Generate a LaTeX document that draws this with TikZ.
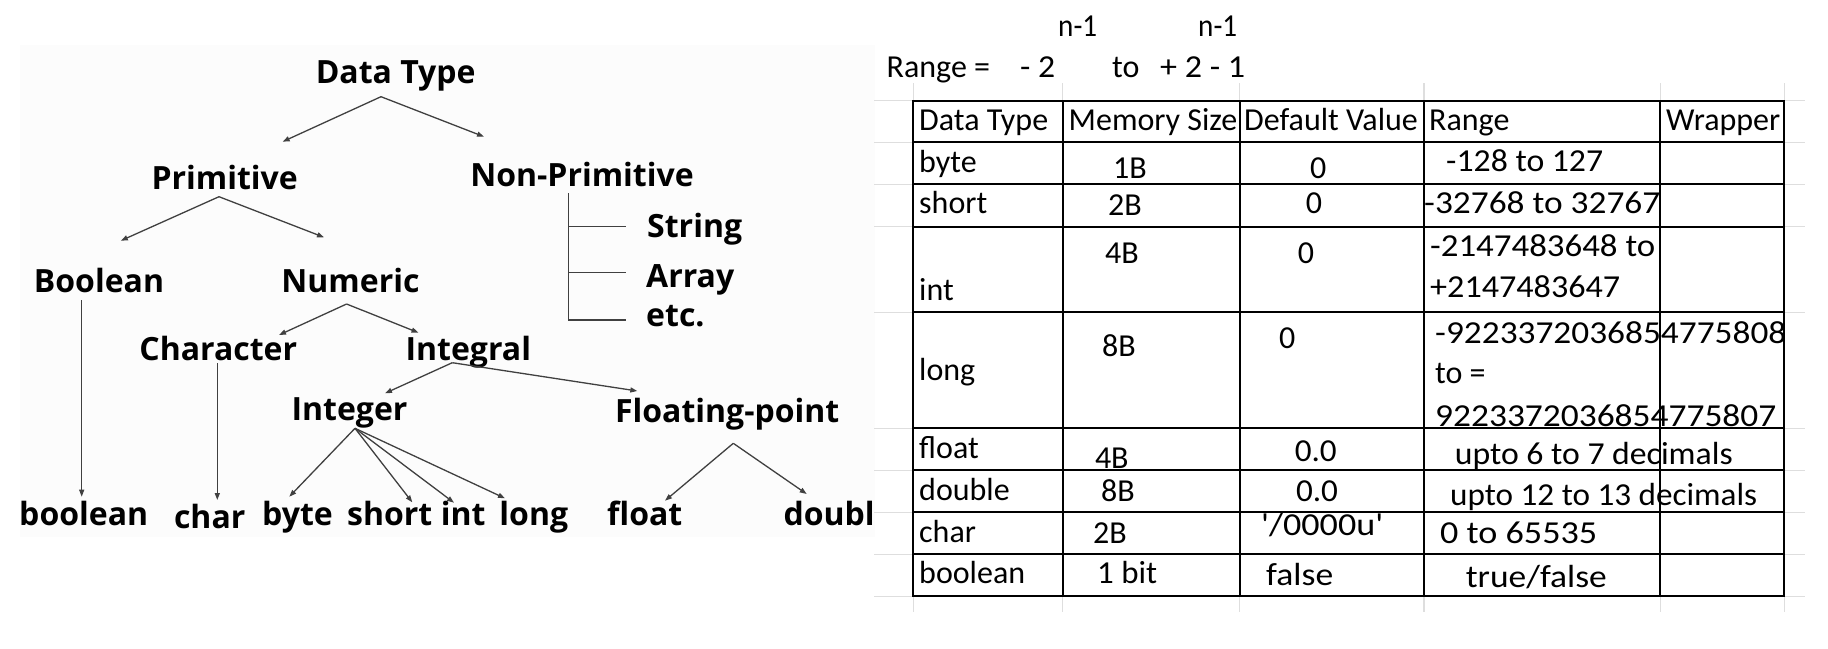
\documentclass[tikz,border=0pt]{standalone}
\usepackage{graphicx}
\usepackage{fontspec}
\setmainfont{Carlito}
\newfontfamily\treefont{Open Sans}
\newfontfamily\tabfont{Carlito}
\usetikzlibrary{arrows.meta}
\newcommand\fitw[2]{\resizebox{#1pt}{\height}{#2}}
\tikzset{
  tree/.style={font=\treefont\bfseries\fontsize{32}{36}\selectfont, inner sep=0pt, anchor=base, text=black},
  arr/.style={draw=black!75, line width=1.3pt, -{Triangle[length=7pt,width=5pt]}},
  ln/.style={draw=black!75, line width=1.3pt},
  cell/.style={font=\tabfont\fontsize{32}{36}\selectfont, inner sep=0pt, anchor=base west},
  tab/.style={line width=2pt, black},
  sheetgrid/.style={line width=1.3pt, black!13},
}
\begin{document}
\begin{tikzpicture}[x=1pt,y=-1pt]
\useasboundingbox (0,0) rectangle (1828,648);
% ---------------- left: tree ----------------
\begin{scope}
\clip (0,0) rectangle (875,648);
\fill[black!1.2] (20,45) rectangle (875,537);
\node[tree] (dt) at (395.7,83.5) {Data Type};
\node[tree] (prim) at (224.7,189) {Primitive};
\node[tree] (nprim) at (582,186.5) {Non-Primitive};
\node[tree] (boolC) at (99,292) {Boolean};
\node[tree] (num) at (350.5,292) {Numeric};
\node[tree,anchor=base west] (strN) at (647,237) {String};
\node[tree,anchor=base west] (arrayN) at (646,287) {Array};
\node[tree,anchor=base west] (etcN) at (646,326.5) {etc.};
\node[tree] (chr) at (218.3,360.7) {Character};
\node[tree] (igl) at (468.3,360.7) {Integral};
\node[tree] (igr) at (349.5,420.7) {Integer};
\node[tree] (flp) at (727.2,422.7) {Floating-point};
\node[tree] (lboolean) at (83.7,525) {boolean};
\node[tree] (lchar) at (209.7,528) {char};
\node[tree] (lbyte) at (297.5,525) {byte};
\node[tree] (lshort) at (389.7,525) {short};
\node[tree] (lint) at (463.3,525) {int};
\node[tree] (llong) at (533.8,525) {long};
\node[tree] (lfloat) at (644.7,525) {float};
\node[tree,anchor=base west] (ldoubl) at (783.3,525) {doubl};
% connector ends
\coordinate (dtA) at (381,96.7);
\coordinate (primT) at (282.6,141.7);
\coordinate (nprimT) at (484,136.7);
\coordinate (primA) at (219,196.7);
\coordinate (boolT) at (120.8,240.7);
\coordinate (numT) at (324,237.3);
\coordinate (nprimA) at (568.5,193);
\coordinate (strT) at (626,226.7);
\coordinate (arrayT) at (626,272.3);
\coordinate (etcT) at (626,320);
\coordinate (boolA) at (81.7,300);
\coordinate (lboolT) at (81.7,496.7);
\coordinate (numA) at (346.6,304);
\coordinate (chrT) at (279,335);
\coordinate (iglT) at (418.5,332.7);
\coordinate (chrA) at (217.3,363.3);
\coordinate (lcharT) at (217.3,500);
\coordinate (iglA) at (452.3,362.7);
\coordinate (igrT) at (385,393.3);
\coordinate (flpT) at (637.3,391);
\coordinate (igrA) at (355,428.3);
\coordinate (lbyteT) at (289.3,496.7);
\coordinate (lshortT) at (412.3,502.3);
\coordinate (lintT) at (454,502.7);
\coordinate (llongT) at (505,498.3);
\coordinate (flpA) at (733.3,443.3);
\coordinate (lfloatT) at (665,500.7);
\coordinate (ldoublT) at (806.7,494);
\draw[arr] (dtA) -- (primT);
\draw[arr] (dtA) -- (nprimT);
\draw[arr] (primA) -- (boolT);
\draw[arr] (primA) -- (numT);
\draw[ln] (nprimA) |- (etcT);
\draw[ln] (nprimA |- strT) -- (strT);
\draw[ln] (nprimA |- arrayT) -- (arrayT);
\draw[arr] (boolA) -- (lboolT);
\draw[arr] (numA) -- (chrT);
\draw[arr] (numA) -- (iglT);
\draw[arr] (chrA) -- (lcharT);
\draw[arr] (iglA) -- (igrT);
\draw[arr] (iglA) -- (flpT);
\draw[arr] (igrA) -- (lbyteT);
\draw[arr] (igrA) -- (lshortT);
\draw[arr] (igrA) -- (lintT);
\draw[arr] (igrA) -- (llongT);
\draw[arr] (flpA) -- (lfloatT);
\draw[arr] (flpA) -- (ldoublT);
\end{scope}
% ---------------- right: formula ----------------
\node[cell] (sup1) at (1058,36) {\fitw{39}{n-1}};
\node[cell] (sup2) at (1198,36) {\fitw{39}{n-1}};
\node[cell] (rng) at (886.5,77) {Range =};
\node[cell] (m2) at (1020,77) {\fitw{35}{- 2}};
\node[cell] (to) at (1112,77) {to};
\node[cell] (p2) at (1160,77) {\fitw{85}{+ 2 - 1}};
% ---------------- right: table ----------------
\foreach \y in {100.7,142.3,184.3,226.7,312.3,428.3,470.3,512.3,554.3,596.3}
  \draw[sheetgrid] (874,\y) -- (1805,\y);
\foreach \x in {913.4,1062.5,1239.6,1424,1660.4,1784.4}
  \draw[sheetgrid] (\x,83) -- (\x,612);
\draw[tab] (913.4,100.7) rectangle (1784.4,596.3);
\foreach \x in {1062.5,1239.6,1424,1660.4}
  \draw[tab] (\x,100.7) -- (\x,596.3);
\foreach \y in {142.3,184.3,226.7,312.3,428.3,470.3,512.3,554.3}
  \draw[tab] (913.4,\y) -- (1784.4,\y);
% header
\node[cell] (h1) at (919,130) {Data Type};
\node[cell] (h2) at (1068.5,130) {Memory Size};
\node[cell] (h3) at (1244,130) {Default Value};
\node[cell] (h4) at (1429,130) {Range};
\node[cell] (h5) at (1666,130) {Wrapper};
% byte
\node[cell] (r1a) at (919,172) {byte};
\node[cell] (r1b) at (1113,178) {1B};
\node[cell] (r1c) at (1310,178) {0};
\node[cell] (r1d) at (1446,171) {\fitw{157}{-128 to 127}};
% short
\node[cell] (r2a) at (919,213) {short};
\node[cell] (r2b) at (1108,215) {2B};
\node[cell] (r2c) at (1305.6,213) {0};
\node[cell] (r2d) at (1424,213) {\fitw{236}{-32768 to 32767}};
% int
\node[cell] (r3a) at (919,300) {int};
\node[cell] (r3b) at (1105,263) {4B};
\node[cell] (r3c) at (1297.6,263) {0};
\node[cell] (r3d) at (1430,256.7) {\fitw{225}{-2147483648 to}};
\node[cell] (r3e) at (1430,297) {\fitw{190}{+2147483647}};
% long
\node[cell] (r4a) at (919,380) {long};
\node[cell] (r4b) at (1102,356.7) {8B};
\node[cell] (r4c) at (1279,348) {0};
\node[cell] (r4d) at (1435,343) {\fitw{351}{-9223372036854775808}};
\node[cell] (r4e) at (1435,383) {to =};
\node[cell] (r4f) at (1435,426.7) {\fitw{341}{9223372036854775807}};
% float
\node[cell] (r5a) at (919,458) {float};
\node[cell] (r5b) at (1094.8,468) {4B};
\node[cell] (r5c) at (1294.6,461.7) {\fitw{42}{0.0}};
\node[cell] (r5d) at (1454.6,464) {\fitw{278}{upto 6 to 7 decimals}};
% double
\node[cell] (r6a) at (919,500) {double};
\node[cell] (r6b) at (1101,501.7) {8B};
\node[cell] (r6c) at (1295.8,501.7) {\fitw{42}{0.0}};
\node[cell] (r6d) at (1450,505) {\fitw{307}{upto 12 to 13 decimals}};
% char
\node[cell] (r7a) at (919,542) {char};
\node[cell] (r7b) at (1093,543) {2B};
\node[cell] (r7c) at (1261,535) {\fitw{122}{\textquotesingle/0000u\textquotesingle}};
\node[cell] (r7d) at (1440,543) {\fitw{157}{0 to 65535}};
% boolean
\node[cell] (r8a) at (919,583) {boolean};
\node[cell] (r8b) at (1097,583) {\fitw{60}{1 bit}};
\node[cell] (r8c) at (1266,585) {\fitw{67}{false}};
\node[cell] (r8d) at (1465.6,587) {\fitw{141}{true/false}};
\end{tikzpicture}
\end{document}
